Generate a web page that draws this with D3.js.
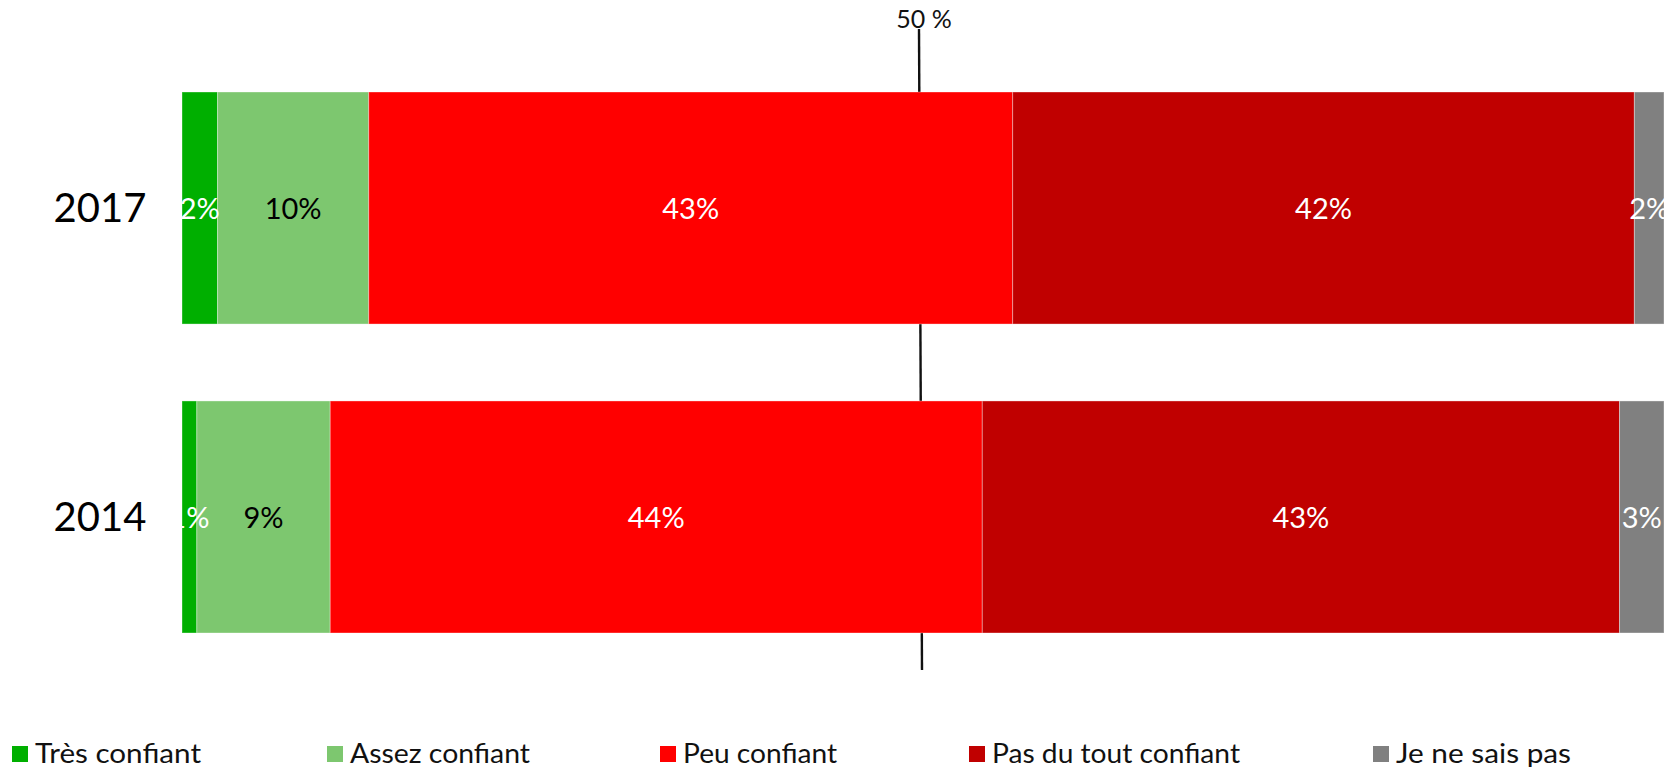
<!DOCTYPE html>
<html>
<head>
<meta charset="utf-8">
<script src="https://cdn.jsdelivr.net/npm/d3@7/dist/d3.min.js"></script>
<style>
  html, body { margin: 0; padding: 0; background: #fff; }
  svg { display: block; }
  text { font-family: Lato, "Open Sans", sans-serif; }
</style>
</head>
<body>
<svg id="chart" width="1667" height="767"></svg>
<script>
// ---- data ----
const years = ["2017", "2014"];
const seriesNames = ["Très confiant", "Assez confiant", "Peu confiant", "Pas du tout confiant", "Je ne sais pas"];
const values2017 = [2.4, 10.2, 43.45, 41.95, 2.0];
const values2014 = [1.0, 9.0, 44.0, 43.0, 3.0];
const markerValue = 50;
const markerLabel = "50 %";

// ---- styles ----
const colors = ["#00AF00", "#7DC76F", "#FF0000", "#C00000", "#808080"];
const labelColors = ["#fff", "#000", "#fff", "#fff", "#fff"];

const svg = d3.select("#chart");
const W = 1667, H = 767;

const x = d3.scaleLinear().domain([0, 100]).range([182, 1664]);
const y = d3.scaleBand().domain(years).range([92, 633]).paddingInner(0.249).paddingOuter(0);

const valuesByYear = { "2017": values2017, "2014": values2014 };

// marker line (behind bars)
svg.append("line")
  .attr("x1", x(markerValue) - 4).attr("y1", 29)
  .attr("x2", x(markerValue) - 1).attr("y2", 670)
  .attr("stroke", "#111").attr("stroke-width", 2.4);

svg.append("text")
  .attr("x", x(markerValue) + 1).attr("y", 28)
  .attr("text-anchor", "middle")
  .attr("font-size", 25)
  .attr("fill", "#111")
  .text(markerLabel);

// clip for labels
svg.append("clipPath").attr("id", "plotClip")
  .append("rect").attr("x", x(0)).attr("y", 0).attr("width", W - x(0)).attr("height", H);

years.forEach(yr => {
  const vals = valuesByYear[yr];
  let cum = 0;
  const segs = vals.map((v, i) => { const s = { i, v, x0: cum, x1: cum + v }; cum += v; return s; });
  const g = svg.append("g");
  g.selectAll("rect").data(segs).enter().append("rect")
    .attr("x", d => x(d.x0))
    .attr("y", y(yr))
    .attr("width", d => x(d.x1) - x(d.x0))
    .attr("height", y.bandwidth())
    .attr("fill", d => colors[d.i])
    .attr("stroke", "rgba(255,255,255,0.35)")
    .attr("stroke-width", 1);

  const lg = svg.append("g").attr("clip-path", "url(#plotClip)");
  lg.selectAll("text").data(segs).enter().append("text")
    .attr("x", d => (x(d.x0) + x(d.x1)) / 2)
    .attr("y", y(yr) + y.bandwidth() / 2 + 11)
    .attr("text-anchor", "middle")
    .attr("font-size", 29)
    .attr("fill", d => labelColors[d.i])
    .text(d => Math.round(d.v) + "%");

  svg.append("text")
    .attr("x", 100)
    .attr("y", y(yr) + y.bandwidth() / 2 + 14)
    .attr("text-anchor", "middle")
    .attr("font-size", 40)
    .attr("fill", "#000")
    .text(yr);
});

// legend
const legendX = [12, 327, 660, 969, 1373];
const legendTextW = [166, 180, 154, 248, 175];
const lgd = svg.append("g");
seriesNames.forEach((name, i) => {
  lgd.append("rect")
    .attr("x", legendX[i]).attr("y", 746)
    .attr("width", 16).attr("height", 16)
    .attr("fill", colors[i]);
  lgd.append("text")
    .attr("x", legendX[i] + 23).attr("y", 763)
    .attr("font-size", 26)
    .attr("fill", "#111")
    .attr("textLength", legendTextW[i])
    .attr("lengthAdjust", "spacingAndGlyphs")
    .text(name);
});
</script>
</body>
</html>
